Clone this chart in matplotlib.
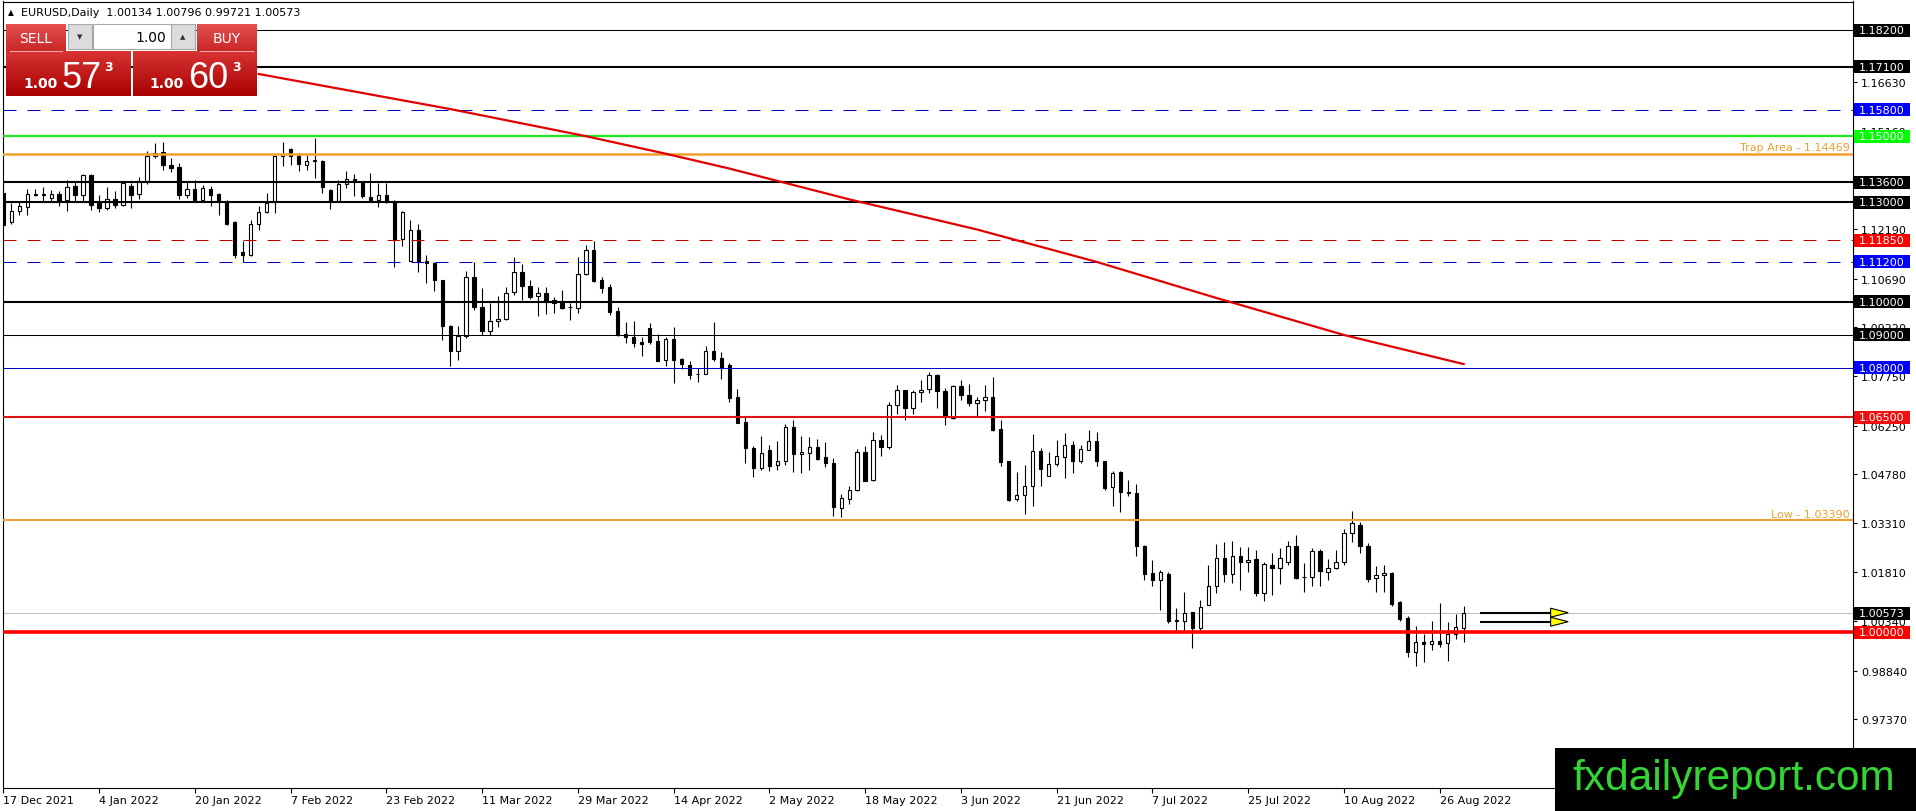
import numpy as np
import matplotlib
matplotlib.use("Agg")
import matplotlib.pyplot as plt
import matplotlib.transforms as mtransforms
from matplotlib.patches import Rectangle, Polygon
from matplotlib.colors import LinearSegmentedColormap

W, H = 1916, 812

# EURUSD daily bars, 17 Dec 2021 .. 31 Aug 2022
opens = [
    1.1328, 1.1241, 1.1273, 1.1286, 1.1321, 1.1326, 1.1313, 1.1326, 1.1306, 1.1348,
    1.1321, 1.1384, 1.1298, 1.1283, 1.1309, 1.1293, 1.1350, 1.1325, 1.1363, 1.1439,
    1.1452, 1.1414, 1.1407, 1.1321, 1.1340, 1.1308, 1.1340, 1.1326, 1.1300, 1.1240,
    1.1149, 1.1142, 1.1234, 1.1271, 1.1300, 1.1441, 1.1461, 1.1441, 1.1414, 1.1426,
    1.1426, 1.1338, 1.1303, 1.1356, 1.1371, 1.1361, 1.1316, 1.1306, 1.1321, 1.1305,
    1.1189, 1.1122, 1.1217, 1.1122, 1.1117, 1.1066, 1.0927, 1.0852, 1.0895, 1.1074,
    1.0983, 1.0910, 1.0940, 1.0947, 1.1028, 1.1089, 1.1048, 1.1017, 1.1027, 1.1005,
    1.0998, 1.0984, 1.0980, 1.1083, 1.1156, 1.1065, 1.1045, 1.0972, 1.0902, 1.0892,
    1.0879, 1.0919, 1.0881, 1.0824, 1.0886, 1.0827, 1.0809, 1.0780, 1.0781, 1.0851,
    1.0829, 1.0809, 1.0713, 1.0637, 1.0557, 1.0497, 1.0552, 1.0505, 1.0517, 1.0621,
    1.0538, 1.0542, 1.0560, 1.0529, 1.0512, 1.0376, 1.0403, 1.0431, 1.0545, 1.0460,
    1.0582, 1.0560, 1.0686, 1.0732, 1.0678, 1.0727, 1.0736, 1.0779, 1.0731, 1.0648,
    1.0744, 1.0719, 1.0693, 1.0701, 1.0713, 1.0615, 1.0517, 1.0403, 1.0415, 1.0443,
    1.0547, 1.0474, 1.0510, 1.0530, 1.0567, 1.0517, 1.0552, 1.0579, 1.0519, 1.0439,
    1.0484, 1.0423, 1.0421, 1.0262, 1.0179, 1.0157, 1.0177, 1.0035, 1.0033, 1.0062,
    1.0013, 1.0082, 1.0139, 1.0225, 1.0176, 1.0230, 1.0212, 1.0222, 1.0118, 1.0204,
    1.0196, 1.0212, 1.0260, 1.0166, 1.0166, 1.0245, 1.0181, 1.0196, 1.0212, 1.0300,
    1.0325, 1.0260, 1.0163, 1.0173, 1.0179, 1.0091, 1.0042, 0.9942, 0.9970, 0.9964,
    0.9973, 0.9967, 0.9994, 1.00134,
]
highs = [
    1.1353, 1.1298, 1.1305, 1.1340, 1.1340, 1.1345, 1.1337, 1.1333, 1.1368, 1.1361,
    1.1387, 1.1386, 1.1321, 1.1346, 1.1333, 1.1363, 1.1358, 1.1376, 1.1454, 1.1479,
    1.1482, 1.1434, 1.1419, 1.1363, 1.1369, 1.1353, 1.1348, 1.1328, 1.1308, 1.1243,
    1.1182, 1.1248, 1.1288, 1.1328, 1.1444, 1.1481, 1.1463, 1.1449, 1.1444, 1.1495,
    1.1428, 1.1340, 1.1369, 1.1394, 1.1387, 1.1363, 1.1389, 1.1358, 1.1358, 1.1308,
    1.1273, 1.1246, 1.1233, 1.1142, 1.1119, 1.1066, 1.0930, 1.0927, 1.1091, 1.1119,
    1.1041, 1.0996, 1.1017, 1.1043, 1.1134, 1.1114, 1.1065, 1.1043, 1.1043, 1.1015,
    1.1035, 1.0995, 1.1134, 1.1171, 1.1184, 1.1074, 1.1053, 1.0985, 1.0937, 1.0940,
    1.0894, 1.0934, 1.0902, 1.0894, 1.0924, 1.0829, 1.0819, 1.0798, 1.0866, 1.0937,
    1.0849, 1.0814, 1.0735, 1.0652, 1.0564, 1.0593, 1.0567, 1.0577, 1.0631, 1.0641,
    1.0594, 1.0591, 1.0586, 1.0575, 1.0527, 1.0419, 1.0443, 1.0554, 1.0562, 1.0606,
    1.0598, 1.0696, 1.0749, 1.0734, 1.0732, 1.0764, 1.0786, 1.0781, 1.0739, 1.0747,
    1.0764, 1.0752, 1.0711, 1.0747, 1.0772, 1.0643, 1.0519, 1.0484, 1.0507, 1.0601,
    1.0557, 1.0544, 1.0582, 1.0603, 1.0577, 1.0567, 1.0611, 1.0605, 1.0519, 1.0487,
    1.0487, 1.0460, 1.0449, 1.0265, 1.0220, 1.0189, 1.0181, 1.0074, 1.0121, 1.0062,
    1.0097, 1.0205, 1.0268, 1.0272, 1.0275, 1.0257, 1.0257, 1.0250, 1.0214, 1.0240,
    1.0254, 1.0277, 1.0294, 1.0210, 1.0255, 1.0252, 1.0222, 1.0249, 1.0312, 1.0368,
    1.0335, 1.0270, 1.0200, 1.0204, 1.0181, 1.0096, 1.0048, 1.0018, 0.9995, 1.0033,
    1.0089, 1.0030, 1.0055, 1.00796,
]
lows = [
    1.1222, 1.1235, 1.1261, 1.1261, 1.1318, 1.1305, 1.1303, 1.1288, 1.1273, 1.1303,
    1.1305, 1.1278, 1.1271, 1.1277, 1.1283, 1.1288, 1.1283, 1.1311, 1.1355, 1.1434,
    1.1397, 1.1392, 1.1311, 1.1313, 1.1301, 1.1301, 1.1288, 1.1261, 1.1232, 1.1132,
    1.1119, 1.1137, 1.1217, 1.1268, 1.1268, 1.1409, 1.1414, 1.1394, 1.1399, 1.1374,
    1.1328, 1.1280, 1.1303, 1.1343, 1.1320, 1.1313, 1.1303, 1.1285, 1.1298, 1.1104,
    1.1167, 1.1122, 1.1088, 1.1056, 1.1031, 1.0883, 1.0804, 1.0824, 1.0890, 1.0973,
    1.0900, 1.0900, 1.0924, 1.0945, 1.1020, 1.1005, 1.1007, 1.0957, 1.0962, 1.0965,
    1.0977, 1.0945, 1.0965, 1.1081, 1.1058, 1.1025, 1.0960, 1.0896, 1.0874, 1.0862,
    1.0834, 1.0872, 1.0819, 1.0806, 1.0755, 1.0795, 1.0766, 1.0758, 1.0780, 1.0819,
    1.0766, 1.0695, 1.0632, 1.0511, 1.0470, 1.0490, 1.0487, 1.0490, 1.0505, 1.0484,
    1.0482, 1.0492, 1.0522, 1.0500, 1.0351, 1.0348, 1.0388, 1.0426, 1.0457, 1.0457,
    1.0532, 1.0554, 1.0661, 1.0643, 1.0661, 1.0696, 1.0724, 1.0678, 1.0626, 1.0645,
    1.0701, 1.0683, 1.0651, 1.0668, 1.0608, 1.0504, 1.0396, 1.0396, 1.0358, 1.0381,
    1.0441, 1.0474, 1.0504, 1.0467, 1.0482, 1.0512, 1.0550, 1.0502, 1.0431, 1.0381,
    1.0363, 1.0413, 1.0232, 1.0159, 1.0141, 1.0069, 1.0028, 1.0003, 1.0003, 0.9952,
    1.0006, 1.0082, 1.0119, 1.0151, 1.0149, 1.0129, 1.0181, 1.0111, 1.0096, 1.0113,
    1.0146, 1.0205, 1.0161, 1.0123, 1.0141, 1.0141, 1.0159, 1.0191, 1.0205, 1.0274,
    1.0240, 1.0153, 1.0123, 1.0121, 1.0081, 1.0035, 0.9924, 0.9899, 0.9909, 0.9948,
    0.9955, 0.9914, 0.9980, 0.99721,
]
closes = [
    1.1232, 1.1273, 1.1288, 1.1325, 1.1326, 1.1321, 1.1326, 1.1306, 1.1346, 1.1321,
    1.1384, 1.1293, 1.1283, 1.1309, 1.1293, 1.1358, 1.1323, 1.1363, 1.1439, 1.1449,
    1.1412, 1.1403, 1.1323, 1.1340, 1.1308, 1.1343, 1.1323, 1.1300, 1.1235, 1.1142,
    1.1142, 1.1235, 1.1271, 1.1298, 1.1441, 1.1447, 1.1441, 1.1416, 1.1426, 1.1427,
    1.1346, 1.1301, 1.1356, 1.1371, 1.1361, 1.1320, 1.1306, 1.1321, 1.1300, 1.1189,
    1.1271, 1.1217, 1.1119, 1.1117, 1.1064, 1.0927, 1.0852, 1.0897, 1.1074, 1.0983,
    1.0910, 1.0940, 1.0947, 1.1027, 1.1089, 1.1048, 1.1015, 1.1027, 1.1002, 1.0995,
    1.0980, 1.0985, 1.1083, 1.1156, 1.1063, 1.1042, 1.0968, 1.0899, 1.0892, 1.0876,
    1.0871, 1.0879, 1.0821, 1.0886, 1.0824, 1.0811, 1.0778, 1.0781, 1.0851, 1.0827,
    1.0798, 1.0708, 1.0634, 1.0557, 1.0497, 1.0542, 1.0504, 1.0518, 1.0621, 1.0539,
    1.0545, 1.0560, 1.0525, 1.0512, 1.0378, 1.0406, 1.0429, 1.0545, 1.0457, 1.0582,
    1.0560, 1.0686, 1.0732, 1.0678, 1.0727, 1.0734, 1.0779, 1.0729, 1.0653, 1.0744,
    1.0719, 1.0693, 1.0703, 1.0713, 1.0613, 1.0514, 1.0401, 1.0415, 1.0443, 1.0547,
    1.0494, 1.0510, 1.0534, 1.0567, 1.0517, 1.0554, 1.0579, 1.0517, 1.0436, 1.0482,
    1.0423, 1.0421, 1.0260, 1.0177, 1.0157, 1.0181, 1.0035, 1.0037, 1.0058, 1.0013,
    1.0077, 1.0141, 1.0225, 1.0176, 1.0230, 1.0214, 1.0220, 1.0118, 1.0207, 1.0196,
    1.0224, 1.0260, 1.0164, 1.0167, 1.0245, 1.0184, 1.0196, 1.0212, 1.0300, 1.0330,
    1.0260, 1.0161, 1.0173, 1.0179, 1.0086, 1.0040, 0.9942, 0.9970, 0.9964, 0.9974,
    0.9964, 0.9994, 1.0015, 1.00573,
]

date_bars = [0, 12, 24, 36, 48, 60, 72, 84, 96, 108, 120, 132, 144, 156, 168, 180]
date_labels = ["17 Dec 2021", "4 Jan 2022", "20 Jan 2022", "7 Feb 2022", "23 Feb 2022",
               "11 Mar 2022", "29 Mar 2022", "14 Apr 2022", "2 May 2022", "18 May 2022",
               "3 Jun 2022", "21 Jun 2022", "7 Jul 2022", "25 Jul 2022", "10 Aug 2022",
               "26 Aug 2022"]

# long moving average (red curve), sampled at a few bars
ma_bars = [32, 56, 73, 83, 91, 106, 122, 137, 152, 168, 183]
ma_values = [1.1688, 1.1582, 1.1500, 1.1447, 1.1402, 1.1309, 1.1218, 1.1120, 1.1011,
             1.0899, 1.0811]

# horizontal levels with a price tag on the scale
level_prices = [1.182, 1.171, 1.158, 1.150, 1.136, 1.130, 1.1185, 1.112, 1.100, 1.090,
                1.080, 1.065, 1.000]
level_colors = ["#000000", "#000000", "#0000C0", "#1EE61E", "#000000", "#000000",
                "#C80000", "#0000C0", "#000000", "#000000", "#0000C8", "#DC1414", "#FF0000"]
tag_colors = ["#000000", "#000000", "#0000FF", "#00FF00", "#000000", "#000000",
              "#FF0000", "#0000FF", "#000000", "#000000", "#0000FF", "#F01010", "#FF0000"]
level_lw = [0.75, 1.5, 0.75, 1.6, 1.5, 1.5, 0.75, 0.75, 1.5, 0.75, 0.75, 1.5, 2.6]
level_dashed = [False, False, True, False, False, False, True, True, False, False,
                False, False, False]

price_ticks = [1.16630, 1.15160, 1.12190, 1.10690, 1.09220, 1.07750,
               1.06250, 1.04780, 1.03310, 1.01810, 1.00340, 0.98840, 0.97370]

trap_price = 1.14469
low_price = 1.03390
bid_price = 1.00573
arrow_prices = [1.00594, 1.00322]

header = "EURUSD,Daily  1.00134 1.00796 0.99721 1.00573"
ORANGE = "#F0A030"

fig = plt.figure(figsize=(W / 100, H / 100), dpi=100)
fig.patch.set_facecolor("white")
ax = fig.add_axes([2.5 / W, (H - 788.5) / H, 1850 / W, 786 / H])
ax.set_facecolor("white")

ylo, yhi = 0.95310, 1.19071
px_per_price = 786 / (yhi - ylo)

# candles
o = np.array(opens)
h = np.array(highs)
l = np.array(lows)
c = np.array(closes)
idx = np.arange(len(o))
up = c >= o
ax.vlines(idx, l, h, color="black", lw=0.8, zorder=2)
body_lo = np.minimum(o, c)
body_h = np.maximum(np.abs(c - o), 0.00002)
ax.bar(idx[up], body_h[up], bottom=body_lo[up], width=0.42, color="white",
       edgecolor="black", linewidth=0.8, zorder=2.5)
ax.bar(idx[~up], body_h[~up], bottom=body_lo[~up], width=0.42, color="black",
       edgecolor="black", linewidth=0.8, zorder=2.5)

# level lines
for p, col, lw, dash in zip(level_prices, level_colors, level_lw, level_dashed):
    ls = (0, (13 / lw * 0.72, 11 / lw * 0.72)) if dash else "-"
    ax.axhline(p, color=col, lw=lw, ls=ls, zorder=3)
ax.axhline(trap_price, color=ORANGE, lw=1.8, zorder=3)
ax.axhline(low_price, color=ORANGE, lw=1.5, zorder=3)
ax.axhline(bid_price, color="#C0C0C0", lw=0.75, zorder=1.8)

# moving average
ax.plot(ma_bars, ma_values, color="#E00000", lw=1.6, zorder=4)

# arrows pointing right
px = 1 / px_per_price
for p in arrow_prices:
    ax.plot([185.1, 194.0], [p, p], color="black", lw=1.5, zorder=5, solid_capstyle="butt")
    ax.add_patch(Polygon([(193.9, p + 4.5 * px), (196.1, p), (193.9, p - 4.5 * px)],
                         closed=True, facecolor="#FFFF00", edgecolor="black", lw=0.8, zorder=6))

ax.set_xlim(-0.10, 231.73)
ax.set_ylim(ylo, yhi)

for s in ax.spines.values():
    s.set_color("black")
    s.set_linewidth(0.8)

ax.yaxis.tick_right()
ax.set_yticks(price_ticks)
ax.set_yticklabels([f"{p:.5f}" for p in price_ticks])
ax.tick_params(axis="y", direction="out", length=3, width=0.8, pad=3, labelsize=8)
ax.set_xticks(date_bars)
ax.set_xticklabels(date_labels, ha="left")
ax.tick_params(axis="x", direction="out", length=3.6, width=0.8, pad=1.5, labelsize=8)

# price tags on the right scale
trans = mtransforms.blended_transform_factory(ax.transAxes, ax.transData)
tag_x = (1854 - 2.5) / 1850
tag_w = 56 / 1850
txt_x = (1859 - 2.5) / 1850
tag_h = 13 * px
for p, col in zip(level_prices + [bid_price], tag_colors + ["#000000"]):
    ax.add_patch(Rectangle((tag_x, p - tag_h / 2), tag_w, tag_h, transform=trans,
                           facecolor=col, edgecolor="none", clip_on=False, zorder=6))
    ax.text(txt_x, p, f"{p:.5f}", transform=trans, color="white", fontsize=8,
            ha="left", va="center", clip_on=False, zorder=7)

right_x = (1850 - 2.5) / 1850
ax.text(right_x, trap_price + 1.5 * px, "Trap Area - 1.14469", transform=trans,
        color=ORANGE, fontsize=8, ha="right", va="bottom", zorder=5)
ax.text(right_x, low_price + 1.5 * px, "Low - 1.03390", transform=trans,
        color=ORANGE, fontsize=8, ha="right", va="bottom", zorder=5)

# overlay in pixel coordinates: header, trading panel, logo
ov = fig.add_axes([0, 0, 1, 1], zorder=10)
ov.patch.set_alpha(0)
ov.axis("off")


def grad(x0, y0, x1, y1, ctop, cbot):
    cmap = LinearSegmentedColormap.from_list("g", [ctop, cbot])
    ov.imshow(np.linspace(0, 1, 64).reshape(-1, 1), cmap=cmap, extent=(x0, x1, y1, y0),
              aspect="auto", interpolation="bilinear", zorder=1)


ov.text(10.7, 12.7, "\u25B2", fontsize=5.5, ha="center", va="center")
ov.text(21.5, 13, header, fontsize=8, ha="left", va="center")

grad(6, 25, 65.7, 52, "#E55050", "#C82828")
grad(197, 25, 257, 52, "#E55050", "#C82828")
grad(6, 52, 131, 97, "#D83434", "#A80000")
grad(133, 52, 257, 97, "#D83434", "#A80000")
ov.plot([10, 62], [52, 52], color="#F4A6A6", lw=0.8, zorder=2)
ov.plot([200, 253], [52, 52], color="#F4A6A6", lw=0.8, zorder=2)
for bx in (67.7, 170.7):
    ov.add_patch(Rectangle((bx, 25), 24.5, 25, facecolor="#DCDCDC", edgecolor="#A8A8A8",
                           lw=0.8, zorder=2))
ov.add_patch(Rectangle((92.7, 25), 78, 25, facecolor="white", edgecolor="#A8A8A8",
                       lw=0.8, zorder=2))
ov.text(80, 37.5, "\u25BC", fontsize=5, ha="center", va="center", color="#303030", zorder=3)
ov.text(183, 37.5, "\u25B2", fontsize=5, ha="center", va="center", color="#303030", zorder=3)
ov.text(166, 38, "1.00", fontsize=10, ha="right", va="center", color="black", zorder=3)
ov.text(35.8, 39, "SELL", fontsize=10, ha="center", va="center", color="white", zorder=3)
ov.text(227, 39, "BUY", fontsize=10, ha="center", va="center", color="white", zorder=3)
for x_small, x_big, x_sup, big in ((41, 62, 104, "57"), (167, 188, 232, "60")):
    ov.text(x_small, 88, "1.00", fontsize=10, ha="center", va="baseline", color="white",
            weight="bold", zorder=3)
    ov.text(x_big, 88, big, family="Liberation Sans", fontsize=26, ha="left",
            va="baseline", color="white", zorder=3)
    ov.text(x_sup, 61, "3", fontsize=9, ha="left", va="top", color="white",
            weight="bold", zorder=3)

ov.add_patch(Rectangle((1555, 749), 361, 63, facecolor="black", edgecolor="none", zorder=2))
ov.text(1733.5, 790, "fxdailyreport.com", family="Liberation Sans", fontsize=30.5,
        color="#33D433", ha="center", va="baseline", zorder=3)

ov.set_xlim(0, W)
ov.set_ylim(H, 0)

fig.savefig("out.png", dpi=100)
